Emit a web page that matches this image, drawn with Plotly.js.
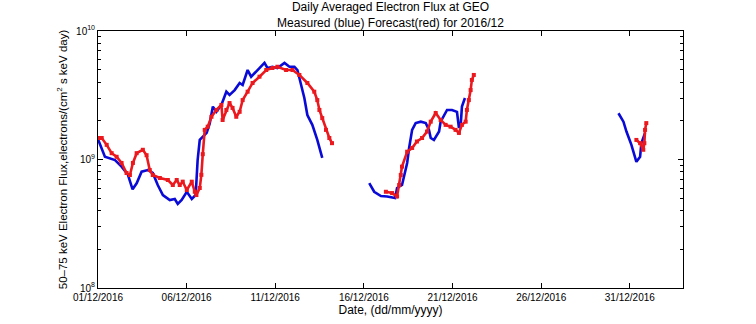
<!DOCTYPE html>
<html>
<head>
<meta charset="utf-8">
<script src="https://cdn.plot.ly/plotly-3.0.1.min.js"></script>
<style>html,body{margin:0;padding:0;background:#fff;}#chart{width:756px;height:324px;}</style>
</head>
<body>
<div id="chart"></div>
<script>
// Days since 01/12/2016 00:00 and flux values (electrons/(cm^2 s keV day))
const measuredDays1 = [0,0.39,0.96,1.33,1.69,1.95,2.18,2.46,2.81,3.09,3.37,3.66,4.05,4.33,4.50,4.72,5.01,5.29,5.51,5.62,5.74,6.13,6.30,6.40,6.48,6.68,6.96,7.24,7.42,7.71,7.99,8.16,8.44,8.64,8.93,9.39,9.56,9.84,10.12,10.52,10.80,11.08,11.25,11.46,11.64,11.81,12.09,12.37,12.65];
const measuredVals1 = [1.44e9,1.05e9,9.9e8,8.8e8,7.6e8,5.86e8,6.53e8,8.04e8,8.28e8,7.85e8,6.33e8,5.29e8,4.84e8,4.93e8,4.51e8,4.84e8,5.61e8,4.93e8,5.29e8,9.9e8,1.42e9,1.61e9,1.9e9,2.3e9,2.58e9,2.35e9,2.66e9,3.37e9,3.18e9,3.47e9,3.94e9,3.80e9,4.97e9,4.41e9,4.82e9,5.64e9,5.15e9,5.27e9,5.15e9,5.64e9,5.27e9,5.27e9,4.97e9,3.69e9,3.01e9,2.22e9,1.86e9,1.42e9,1.03e9];
const measuredDays2 = [15.30,15.58,15.96,16.31,16.76,16.87,17.15,17.44,17.55,17.72,17.92,18.21,18.49,18.67,18.77,18.95,19.24,19.33,19.69,19.97,20.25,20.36,20.46,20.53,20.70];
const measuredVals2 = [6.56e8,5.61e8,5.2e8,5.16e8,5.02e8,6.0e8,6.33e8,9.4e8,1.23e9,1.70e9,1.92e9,1.97e9,1.92e9,1.70e9,1.47e9,1.42e9,1.65e9,1.97e9,2.43e9,2.43e9,2.35e9,1.76e9,1.86e9,2.58e9,3.01e9];
const measuredDays3 = [29.36,29.64,29.81,30.09,30.37,30.58,30.65,30.86];
const measuredVals3 = [2.29e9,1.97e9,1.65e9,1.30e9,9.6e8,1.05e9,1.34e9,1.61e9];

const forecastDays1 = [0,0.21,0.49,0.77,1.05,1.33,1.61,1.80,1.97,2.18,2.53,2.74,2.92,3.09,3.49,3.94,4.22,4.44,4.61,4.78,5.01,5.29,5.46,5.55,5.74,5.83,5.91,6.02,6.19,6.40,6.68,6.96,7.03,7.24,7.42,7.59,7.80,7.99,8.16,8.44,8.72,9.11,9.49,9.84,10.12,10.61,10.97,11.36,11.81,12.20,12.37,12.49,12.65,12.86,13.05,13.20];
const forecastVals1 = [1.47e9,1.47e9,1.30e9,1.12e9,1.05e9,9.4e8,7.85e8,7.57e8,9.4e8,1.12e9,1.19e9,1.08e9,8.28e8,7.57e8,7.18e8,6.93e8,6.33e8,6.93e8,6.33e8,6.72e8,5.79e8,6.72e8,5.61e8,5.29e8,6.0e8,7.6e8,1.1e9,1.70e9,1.80e9,2.15e9,2.43e9,2.66e9,2.03e9,2.43e9,2.75e9,2.52e9,2.15e9,2.35e9,2.90e9,3.37e9,3.94e9,4.41e9,4.97e9,5.15e9,5.27e9,4.97e9,4.97e9,4.55e9,3.94e9,3.37e9,2.90e9,2.43e9,2.10e9,1.70e9,1.47e9,1.34e9];
const forecastDays2 = [16.24,16.59,16.87,16.99,17.08,17.15,17.44,17.72,17.99,18.28,18.56,18.77,19.05,19.33,19.61,19.89,20.17,20.36,20.53,20.74,20.81,20.92,21.02,21.09,21.20];
const forecastVals2 = [5.61e8,5.48e8,5.16e8,6.33e8,7.57e8,8.8e8,1.15e9,1.23e9,1.38e9,1.47e9,1.65e9,1.97e9,2.30e9,2.03e9,1.86e9,1.80e9,1.70e9,1.61e9,1.86e9,1.97e9,2.43e9,2.90e9,3.47e9,4.16e9,4.55e9];
const forecastDays3 = [30.37,30.58,30.76,30.82,30.86,30.93];
const forecastVals3 = [1.42e9,1.34e9,1.19e9,1.34e9,1.70e9,1.92e9];

const tickDates = ['2016-12-01','2016-12-06','2016-12-11','2016-12-16','2016-12-21','2016-12-26','2016-12-31'];
const tickLabels = ['01/12/2016','06/12/2016','11/12/2016','16/12/2016','21/12/2016','26/12/2016','31/12/2016'];
const yTickVals = [1e8,1e9,1e10];
const yTickLabels = ['10<sup>8</sup>','10<sup>9</sup>','10<sup>10</sup>'];
const yMinorVals = [2e8,3e8,4e8,5e8,6e8,7e8,8e8,9e8,2e9,3e9,4e9,5e9,6e9,7e9,8e9,9e9];

const base = Date.UTC(2016,11,1);
function toDate(d){ return new Date(base + d*86400000).toISOString().slice(0,19).replace('T',' '); }

const blue = 'rgb(10,10,215)', red = 'rgb(235,25,30)';
function measured(days, vals){
  return {x: days.map(toDate), y: vals, type:'scatter', mode:'lines', showlegend:false,
          line:{color:blue, width:2.6}, hoverinfo:'skip'};
}
function forecast(days, vals){
  return {x: days.map(toDate), y: vals, type:'scatter', mode:'lines+markers', showlegend:false,
          line:{color:red, width:2.6}, marker:{color:red, size:4, symbol:'square'}, hoverinfo:'skip'};
}
const data = [
  measured(measuredDays1, measuredVals1), measured(measuredDays2, measuredVals2), measured(measuredDays3, measuredVals3),
  forecast(forecastDays1, forecastVals1), forecast(forecastDays2, forecastVals2), forecast(forecastDays3, forecastVals3)
];

const fnt = {family:'"Liberation Sans", Arial, sans-serif', color:'#000'};
const layout = {
  width:756, height:324,
  margin:{l:98, r:73, t:31, b:36},
  paper_bgcolor:'#fff', plot_bgcolor:'#fff',
  font:Object.assign({size:10}, fnt),
  title:{text:'Daily Averaged Electron Flux at GEO<br>Measured (blue) Forecast(red) for 2016/12',
         font:Object.assign({size:12}, fnt), x:0.5, xref:'paper', xanchor:'center', y:1, yref:'paper', yanchor:'bottom', pad:{b:20}},
  xaxis:{type:'date', range:['2016-12-01','2017-01-03'], tickmode:'array', tickvals:tickDates, ticktext:tickLabels,
         ticks:'inside', ticklen:5, tickcolor:'#000', tickwidth:1, showgrid:false, zeroline:false,
         showline:true, linecolor:'#000', linewidth:1, mirror:'ticks',
         tickfont:Object.assign({size:10}, fnt),
         title:{text:'Date, (dd/mm/yyyy)', font:Object.assign({size:12}, fnt), standoff:2}},
  yaxis:{type:'log', range:[8,10], tickmode:'array', tickvals:yTickVals, ticktext:yTickLabels,
         ticks:'inside', ticklen:5, tickcolor:'#000', tickwidth:1, showgrid:false, zeroline:false,
         showline:true, linecolor:'#000', linewidth:1, mirror:'ticks',
         minor:{tickmode:'array', tickvals:yMinorVals, ticks:'inside', ticklen:3, tickcolor:'#000', showgrid:false},
         tickfont:Object.assign({size:10}, fnt),
         title:{text:'50\u201375 keV Electron Flux,electrons/(cm<sup>2</sup> s keV day)', font:Object.assign({size:11.5}, fnt), standoff:6}}
};
Plotly.newPlot('chart', data, layout, {staticPlot:true, displayModeBar:false});
</script>
</body>
</html>
